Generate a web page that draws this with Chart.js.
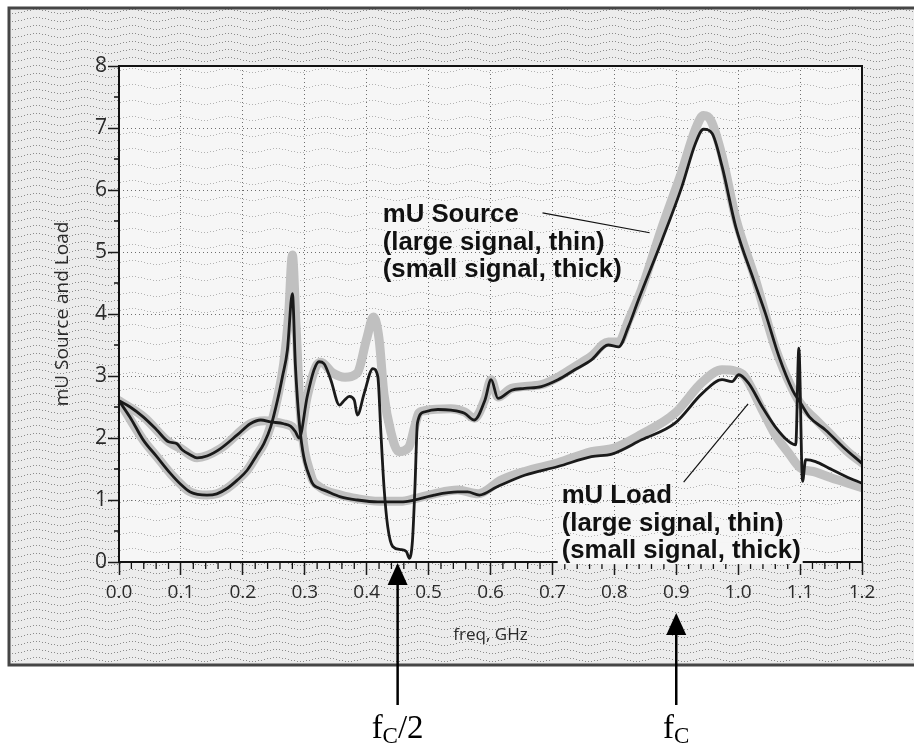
<!DOCTYPE html>
<html>
<head>
<meta charset="utf-8">
<script src="https://cdn.jsdelivr.net/npm/chart.js@4.4.1/dist/chart.umd.min.js"></script>
<style>
  html, body { margin: 0; padding: 0; background: #fff; }
  #wrap { position: relative; width: 914px; height: 749px; }
</style>
</head>
<body>
<div id="wrap"><canvas id="chart" width="914" height="749"></canvas></div>
<script>
// mU Source, large signal (thin black trace)
const srcLargeFreq = [0.000, 0.018, 0.039, 0.061, 0.080, 0.093, 0.102, 0.115, 0.126, 0.142, 0.164, 0.191, 0.212, 0.229, 0.245, 0.266, 0.277, 0.285, 0.291,
  0.304, 0.315, 0.323, 0.331, 0.342, 0.356, 0.364, 0.372, 0.380, 0.385, 0.396, 0.410, 0.418, 0.423, 0.428, 0.434, 0.442, 0.455, 0.464, 0.469, 0.474, 0.478,
  0.482, 0.493, 0.515, 0.536, 0.558, 0.574, 0.591, 0.601, 0.612, 0.634, 0.655, 0.682, 0.709, 0.736, 0.763, 0.790, 0.807, 0.823, 0.839, 0.877, 0.909,
  0.931, 0.944, 0.958, 0.974, 0.996, 1.025, 1.044, 1.066, 1.088, 1.101, 1.115, 1.141, 1.169, 1.200];
const srcLargeMu = [2.60, 2.50, 2.34, 2.13, 1.94, 1.91, 1.81, 1.73, 1.68, 1.71, 1.83, 2.05, 2.23, 2.29, 2.26, 2.23, 2.19, 2.10, 2.00,
  2.67, 3.10, 3.23, 3.20, 2.94, 2.53, 2.61, 2.67, 2.61, 2.37, 2.72, 3.12, 2.99, 2.08, 1.21, 0.57, 0.25, 0.20, 0.17, 0.06, 0.35, 1.21,
  2.24, 2.42, 2.46, 2.45, 2.40, 2.29, 2.61, 2.94, 2.64, 2.77, 2.80, 2.83, 2.94, 3.10, 3.26, 3.50, 3.47, 3.80, 4.23, 5.19, 6.05,
  6.75, 6.98, 6.91, 6.38, 5.41, 4.55, 4.01, 3.31, 2.77, 2.56, 2.34, 2.13, 1.86, 1.59];

// mU Source, small signal (thick grey trace)
const srcSmallFreq = [0.000, 0.040, 0.080, 0.100, 0.126, 0.164, 0.212, 0.235, 0.266, 0.280, 0.291, 0.304, 0.318, 0.326, 0.345, 0.365, 0.385, 0.400,
  0.411, 0.420, 0.428, 0.439, 0.452, 0.468, 0.478, 0.484, 0.493, 0.536, 0.558, 0.574, 0.591, 0.601, 0.612, 0.634, 0.682, 0.709, 0.736, 0.763,
  0.790, 0.807, 0.823, 0.844, 0.877, 0.909, 0.931, 0.944, 0.956, 0.974, 0.996, 1.028, 1.060, 1.088, 1.101, 1.125, 1.147, 1.179, 1.200];
const srcSmallMu = [2.60, 2.34, 1.94, 1.83, 1.68, 1.83, 2.23, 2.28, 2.23, 2.18, 2.02, 2.67, 3.15, 3.22, 3.05, 2.98, 3.05, 3.60,
  3.95, 3.60, 2.70, 2.10, 1.78, 1.85, 2.20, 2.40, 2.44, 2.47, 2.42, 2.32, 2.63, 2.94, 2.66, 2.80, 2.86, 2.98, 3.15, 3.32,
  3.55, 3.55, 3.90, 4.40, 5.40, 6.30, 6.98, 7.20, 7.12, 6.55, 5.55, 4.55, 3.45, 2.78, 2.55, 2.30, 2.08, 1.76, 1.60];

// mU Load, large signal (thin black trace)
const loadLargeFreq = [0.000, 0.020, 0.039, 0.061, 0.083, 0.100, 0.115, 0.142, 0.158, 0.175, 0.191, 0.207, 0.223, 0.234, 0.245, 0.256, 0.264, 0.272,
  0.280, 0.285, 0.293, 0.310, 0.323, 0.331, 0.358, 0.385, 0.418, 0.455, 0.477, 0.509, 0.547, 0.563, 0.582, 0.610, 0.655, 0.709, 0.763, 0.796,
  0.844, 0.898, 0.942, 0.974, 0.990, 1.001, 1.017, 1.039, 1.060, 1.082, 1.093, 1.098, 1.104, 1.109, 1.125, 1.147, 1.174, 1.200];
const loadLargeMu = [2.60, 2.30, 1.97, 1.70, 1.43, 1.25, 1.13, 1.08, 1.10, 1.19, 1.32, 1.48, 1.73, 1.91, 2.18, 2.61, 2.99, 3.42,
  4.33, 3.15, 2.07, 1.32, 1.19, 1.16, 1.05, 1.00, 0.97, 0.97, 1.00, 1.08, 1.13, 1.13, 1.08, 1.21, 1.40, 1.54, 1.70, 1.74,
  1.97, 2.24, 2.72, 2.94, 2.91, 3.02, 2.88, 2.50, 2.18, 1.94, 1.89, 3.45, 1.30, 1.65, 1.62, 1.51, 1.38, 1.27];

// mU Load, small signal (thick grey trace)
const loadSmallFreq = [0.000, 0.039, 0.061, 0.083, 0.115, 0.142, 0.158, 0.175, 0.191, 0.207, 0.223, 0.234, 0.245, 0.256, 0.266, 0.274, 0.280,
  0.286, 0.293, 0.310, 0.323, 0.358, 0.385, 0.420, 0.455, 0.477, 0.509, 0.547, 0.580, 0.617, 0.655, 0.709, 0.763, 0.800, 0.844, 0.898,
  0.942, 0.974, 0.995, 1.010, 1.039, 1.060, 1.082, 1.100, 1.125, 1.150, 1.175, 1.200];
const loadSmallMu = [2.60, 1.97, 1.70, 1.43, 1.13, 1.08, 1.10, 1.19, 1.32, 1.48, 1.73, 1.91, 2.20, 2.65, 3.20, 4.00, 4.95,
  3.80, 2.40, 1.40, 1.22, 1.08, 1.02, 0.98, 0.98, 1.02, 1.10, 1.16, 1.10, 1.32, 1.46, 1.60, 1.78, 1.84, 2.06, 2.40,
  2.90, 3.10, 3.08, 3.00, 2.45, 2.05, 1.75, 1.52, 1.45, 1.36, 1.28, 1.20];

// axes
const xMin = 0, xMax = 1.2, xStep = 0.1, xMinorStep = 0.02;
const yMin = 0, yMax = 8, yStep = 1, yMinorStep = 0.5;

// annotations (placed in data units)
const sourceNote = ['mU Source', '(large signal, thin)', '(small signal, thick)'];
const sourceNoteAt = { x: 0.426, y: 5.48 };
const sourceLeader = [{ x: 0.684, y: 5.63 }, { x: 0.857, y: 5.31 }];
const loadNote = ['mU Load', '(large signal, thin)', '(small signal, thick)'];
const loadNoteAt = { x: 0.715, y: 0.95 };
const loadLeader = [{ x: 0.912, y: 1.29 }, { x: 1.016, y: 2.55 }];
const markerFreq = [0.45, 0.9];
const markerSuffix = ['/2', ''];

const AXIS_FONT = '"Open Sans", "DejaVu Sans", sans-serif';
const TEXT_COLOR = '#2a2a2a';

function toPoints(xs, ys) {
  return xs.map((v, i) => ({ x: v, y: ys[i] }));
}

function trace(label, xs, ys, color, width, order) {
  return {
    label,
    data: toPoints(xs, ys),
    borderColor: color,
    borderWidth: width,
    pointRadius: 0,
    fill: false,
    cubicInterpolationMode: 'monotone',
    borderJoinStyle: 'round',
    borderCapStyle: 'round',
    order,
  };
}

// scanned-paper look: wavy dotted texture tile
function paperTexture(ctx, base, dot, rows) {
  const tile = document.createElement('canvas');
  tile.width = 48;
  tile.height = 16;
  const t = tile.getContext('2d');
  t.fillStyle = base;
  t.fillRect(0, 0, 48, 16);
  t.fillStyle = dot;
  rows.forEach(r => {
    for (let i = 0; i < 48; i += 3) {
      const yy = r + 2 * Math.sin((i / 48) * Math.PI * 2);
      t.fillRect(i, Math.round(yy + 16) % 16, 1, 1);
    }
  });
  return ctx.createPattern(tile, 'repeat');
}

const paperPlugin = {
  id: 'paper',
  beforeDraw(chart) {
    const { ctx, chartArea: a, width, height } = chart;
    ctx.save();
    ctx.fillStyle = '#ffffff';
    ctx.fillRect(0, 0, width, height);
    ctx.fillStyle = paperTexture(ctx, '#ececec', '#8c8c8c', [3, 11]);
    ctx.fillRect(10, 8, width - 10, 657);
    ctx.fillStyle = paperTexture(ctx, '#f6f6f6', '#b4b4b4', [6]);
    ctx.fillRect(a.left, a.top, a.right - a.left, a.bottom - a.top);
    ctx.strokeStyle = '#454545';
    ctx.lineWidth = 3;
    ctx.beginPath();
    ctx.moveTo(width, 8);
    ctx.lineTo(9, 8);
    ctx.lineTo(9, 665);
    ctx.lineTo(width, 665);
    ctx.stroke();
    ctx.restore();
  }
};

function drawNote(ctx, lines, x0, y0, gap, scaleX) {
  lines.forEach((t, i) => {
    ctx.save();
    ctx.translate(x0, y0 + i * gap);
    ctx.scale(scaleX, 1);
    ctx.fillText(t, 0, 0);
    ctx.restore();
  });
}

function drawMarker(ctx, px, tipY, label) {
  const endY = 705;
  ctx.fillStyle = '#000';
  ctx.strokeStyle = '#000';
  ctx.lineWidth = 2.5;
  ctx.beginPath();
  ctx.moveTo(px, tipY + 18);
  ctx.lineTo(px, endY);
  ctx.stroke();
  ctx.beginPath();
  ctx.moveTo(px, tipY);
  ctx.lineTo(px - 10, tipY + 22);
  ctx.lineTo(px + 10, tipY + 22);
  ctx.closePath();
  ctx.fill();

  const mainFont = '33px "Liberation Serif", "Times New Roman", serif';
  const subFont = '23px "Liberation Serif", "Times New Roman", serif';
  ctx.font = mainFont;
  const wf = ctx.measureText('f').width;
  const ws = ctx.measureText(label).width;
  ctx.font = subFont;
  const wc = ctx.measureText('C').width;
  const x0 = px - (wf + wc + ws) / 2;
  const base = 738;
  ctx.textAlign = 'left';
  ctx.textBaseline = 'alphabetic';
  ctx.font = mainFont;
  ctx.fillText('f', x0, base);
  ctx.font = subFont;
  ctx.fillText('C', x0 + wf, base + 5);
  ctx.font = mainFont;
  ctx.fillText(label, x0 + wf + wc, base);
}

const overlayPlugin = {
  id: 'overlay',
  afterDraw(chart) {
    const { ctx, chartArea: a, scales: { x, y } } = chart;
    ctx.save();

    // plot box
    ctx.strokeStyle = '#111';
    ctx.lineWidth = 2;
    ctx.strokeRect(a.left, a.top, a.right - a.left, a.bottom - a.top);

    // minor ticks
    ctx.lineWidth = 1.3;
    ctx.beginPath();
    const nx = Math.round((xMax - xMin) / xMinorStep);
    for (let i = 1; i < nx; i++) {
      if (i % 5 === 0) continue;
      const px = x.getPixelForValue(xMin + i * xMinorStep);
      ctx.moveTo(px, a.bottom);
      ctx.lineTo(px, a.bottom + 7);
    }
    const ny = Math.round((yMax - yMin) / yMinorStep);
    for (let i = 1; i < ny; i += 2) {
      const py = y.getPixelForValue(yMin + i * yMinorStep);
      ctx.moveTo(a.left - 5, py);
      ctx.lineTo(a.left, py);
    }
    ctx.stroke();

    // notes
    ctx.font = 'bold 25px "Liberation Sans", Arial, sans-serif';
    const scaleX = 239 / ctx.measureText('(small signal, thick)').width;
    ctx.textAlign = 'left';
    ctx.textBaseline = 'alphabetic';

    const lx = x.getPixelForValue(loadNoteAt.x);
    const ly = y.getPixelForValue(loadNoteAt.y);
    ctx.fillStyle = '#f6f6f6';
    ctx.fillRect(lx - 4, ly + 2 * 27.5 - 16, 245, 22);
    ctx.fillStyle = '#111';
    drawNote(ctx, sourceNote, x.getPixelForValue(sourceNoteAt.x), y.getPixelForValue(sourceNoteAt.y), 27.5, scaleX);
    drawNote(ctx, loadNote, lx, ly, 27.5, scaleX);

    ctx.strokeStyle = '#111';
    ctx.lineWidth = 1.2;
    [sourceLeader, loadLeader].forEach(seg => {
      ctx.beginPath();
      ctx.moveTo(x.getPixelForValue(seg[0].x), y.getPixelForValue(seg[0].y));
      ctx.lineTo(x.getPixelForValue(seg[1].x), y.getPixelForValue(seg[1].y));
      ctx.stroke();
    });

    // fc markers below the chart
    drawMarker(ctx, x.getPixelForValue(markerFreq[0]), a.bottom + 1, markerSuffix[0]);
    drawMarker(ctx, x.getPixelForValue(markerFreq[1]), a.bottom + 51, markerSuffix[1]);

    ctx.restore();
  }
};

const gridStyle = {
  color: '#6e6e6e',
  lineWidth: 1,
  tickColor: '#1a1a1a',
  tickWidth: 1.5,
  tickBorderDash: [],
};

new Chart(document.getElementById('chart'), {
  type: 'line',
  data: {
    datasets: [
      trace('mU Source (small signal)', srcSmallFreq, srcSmallMu, '#c0c0c0', 9, 2),
      trace('mU Load (small signal)', loadSmallFreq, loadSmallMu, '#c0c0c0', 9, 3),
      trace('mU Source (large signal)', srcLargeFreq, srcLargeMu, '#1a1a1a', 2.8, 0),
      trace('mU Load (large signal)', loadLargeFreq, loadLargeMu, '#1a1a1a', 2.8, 1),
    ]
  },
  options: {
    responsive: false,
    devicePixelRatio: 1,
    animation: false,
    layout: { padding: { left: 0, top: 66, right: 52, bottom: 104 } },
    plugins: {
      legend: { display: false },
      tooltip: { enabled: false },
    },
    scales: {
      x: {
        type: 'linear',
        min: xMin,
        max: xMax,
        ticks: {
          stepSize: xStep,
          autoSkip: false,
          maxRotation: 0,
          padding: 6,
          color: TEXT_COLOR,
          font: { family: AXIS_FONT, size: 19 },
          callback: v => v.toFixed(1),
        },
        grid: { ...gridStyle, tickLength: 13 },
        border: { display: false, dash: [1, 3] },
        title: {
          display: true,
          text: 'freq, GHz',
          color: TEXT_COLOR,
          font: { family: AXIS_FONT, size: 17 },
          padding: 0,
        },
        afterFit: s => { s.height = 83; },
      },
      y: {
        min: yMin,
        max: yMax,
        ticks: {
          stepSize: yStep,
          padding: 1,
          color: TEXT_COLOR,
          font: { family: AXIS_FONT, size: 21 },
        },
        grid: { ...gridStyle, tickLength: 11 },
        border: { display: false, dash: [1, 3] },
        title: {
          display: true,
          text: 'mU Source and Load',
          color: TEXT_COLOR,
          font: { family: AXIS_FONT, size: 19 },
          padding: { top: 51, bottom: 0 },
        },
        afterFit: s => { s.width = 119; },
      },
    },
  },
  plugins: [paperPlugin, overlayPlugin],
});
</script>
</body>
</html>
